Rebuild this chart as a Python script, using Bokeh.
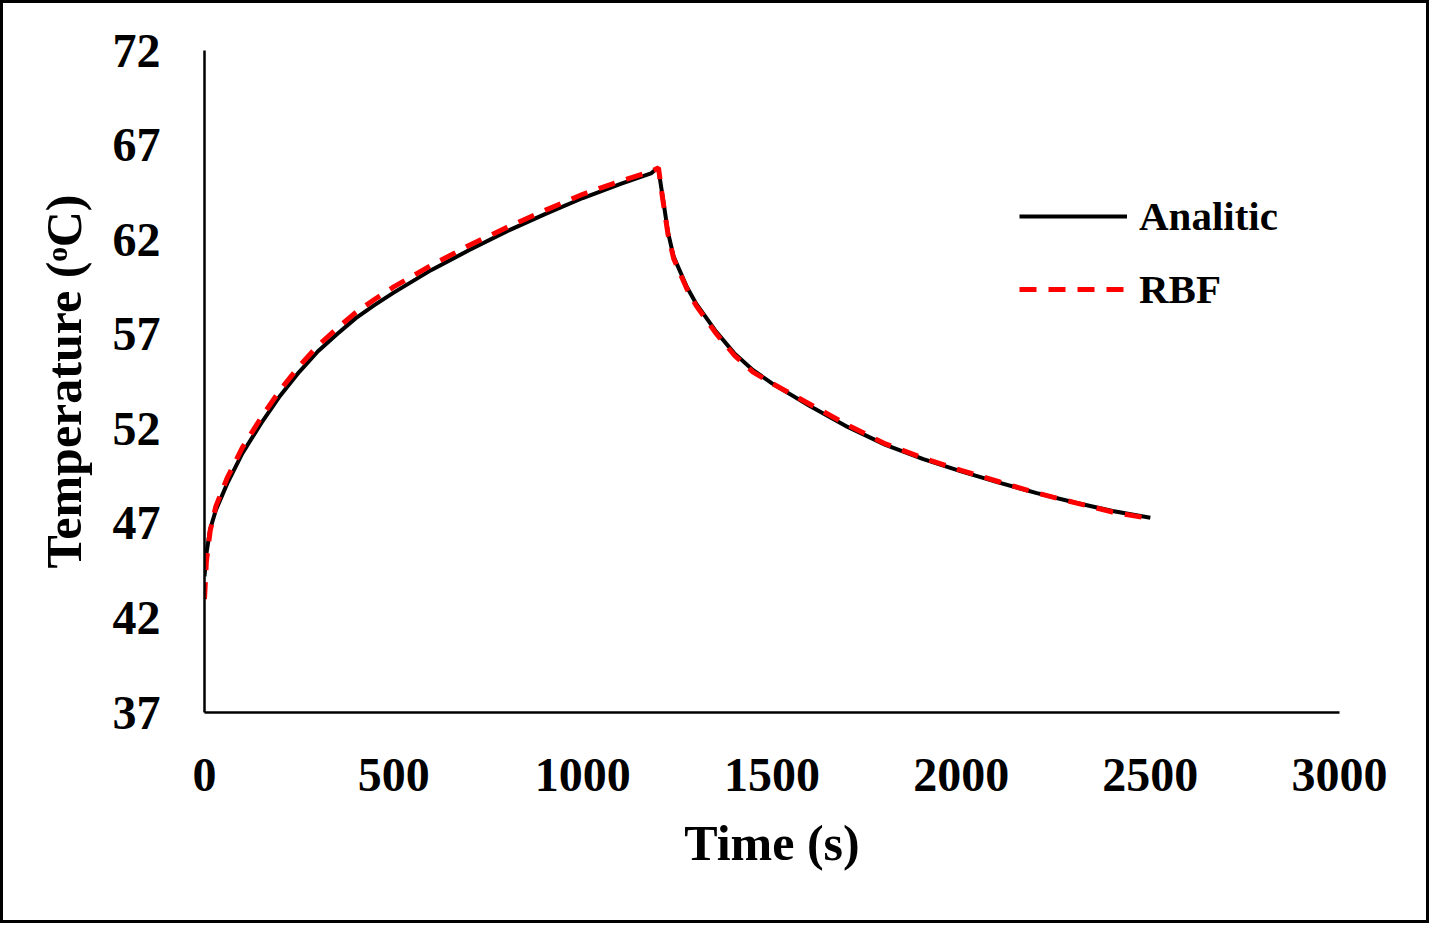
from bokeh.plotting import figure
from bokeh.models import Range1d, FixedTicker, Legend, LegendItem
from bokeh.embed import file_html
from bokeh.resources import INLINE

# ---- data ----
analytic_t = [0, 5, 15, 30, 60, 100, 150, 200, 250, 300, 350, 400, 450, 500, 600, 700, 800,
              900, 1000, 1100, 1180, 1195, 1200, 1210, 1225, 1240, 1275, 1300, 1350, 1400,
              1450, 1500, 1600, 1700, 1800, 1900, 2000, 2100, 2200, 2300, 2400, 2500]
analytic_T = [44.2, 45.4, 46.7, 47.7, 49.1, 50.7, 52.3, 53.75, 55.0, 56.1, 57.0, 57.85, 58.55,
              59.2, 60.4, 61.45, 62.45, 63.35, 64.2, 64.95, 65.5, 65.75, 65.7, 64.4, 62.4,
              61.1, 59.5, 58.6, 57.2, 56.0, 55.1, 54.4, 53.2, 52.1, 51.15, 50.4, 49.75,
              49.15, 48.6, 48.1, 47.65, 47.3]

rbf_t = [0, 5, 15, 30, 60, 100, 150, 200, 250, 300, 350, 400, 450, 500, 600, 700, 800,
         900, 1000, 1100, 1180, 1200, 1210, 1225, 1240, 1275, 1300, 1350, 1400,
         1450, 1500, 1600, 1700, 1800, 1900, 2000, 2100, 2200, 2300, 2400, 2500]
rbf_T = [43.0, 45.0, 46.6, 47.9, 49.4, 51.0, 52.6, 54.05, 55.3, 56.4, 57.3, 58.15, 58.85,
         59.5, 60.65, 61.7, 62.65, 63.55, 64.4, 65.1, 65.6, 65.8, 64.3, 62.3, 61.0,
         59.4, 58.5, 57.1, 55.9, 55.0, 54.4, 53.3, 52.2, 51.2, 50.45, 49.8, 49.2,
         48.6, 48.1, 47.6, 47.25]

x_ticks = [0, 500, 1000, 1500, 2000, 2500, 3000]
y_ticks = [37, 42, 47, 52, 57, 62, 67, 72]

FONT = "Liberation Serif"

p = figure(width=1429, height=923, output_backend="svg", toolbar_location=None,
           x_range=Range1d(0, 3000), y_range=Range1d(37, 72),
           min_border_left=201, min_border_right=93, min_border_top=47, min_border_bottom=214)
p.styles = {"border": "3px solid black"}

p.grid.visible = False
p.outline_line_color = None
p.background_fill_color = "white"
p.border_fill_color = "white"

for ax, ticks in ((p.xaxis[0], x_ticks), (p.yaxis[0], y_ticks)):
    ax.ticker = FixedTicker(ticks=ticks)
    ax.major_tick_in = 0
    ax.major_tick_out = 0
    ax.minor_tick_in = 0
    ax.minor_tick_out = 0
    ax.axis_line_width = 2.5
    ax.axis_line_color = "black"
    ax.major_label_text_font = FONT
    ax.major_label_text_font_style = "bold"
    ax.major_label_text_font_size = "48px"
    ax.major_label_text_color = "black"
    ax.axis_label_text_font = FONT
    ax.axis_label_text_font_style = "bold"
    ax.axis_label_text_font_size = "50px"
    ax.axis_label_text_color = "black"

p.xaxis.axis_label = "Time (s)"
p.yaxis.axis_label = "Temperature (\u1d52C)"
p.xaxis.major_label_standoff = 46
p.yaxis.major_label_standoff = 44
p.xaxis.axis_label_standoff = 21
p.yaxis.axis_label_standoff = 18

r1 = p.line(analytic_t, analytic_T, line_color="black", line_width=4)
r2 = p.line(rbf_t, rbf_T, line_color="#ff0000", line_width=5, line_dash="17 12")

legend = Legend(items=[LegendItem(label="Analitic", renderers=[r1]),
                       LegendItem(label="RBF", renderers=[r2])],
                location=(815, 393))
legend.label_text_font = FONT
legend.label_text_font_style = "bold"
legend.label_text_font_size = "41px"
legend.label_text_color = "black"
legend.glyph_width = 108
legend.glyph_height = 60
legend.spacing = 13
legend.label_standoff = 12
legend.padding = 0
legend.margin = 0
legend.border_line_color = None
legend.background_fill_alpha = 0
p.add_layout(legend)

open("out.html", "w").write(file_html(p, INLINE))
